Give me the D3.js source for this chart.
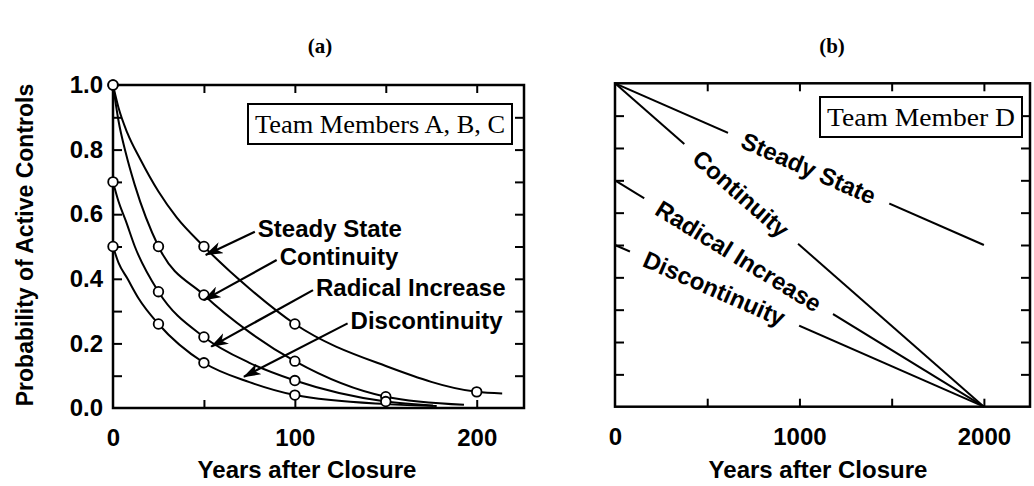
<!DOCTYPE html>
<meta charset="utf-8">
<style>
    body { margin: 0; background: #fff; }
    svg { display: block; }
    .frame { fill: none; stroke: #000; stroke-width: 2.5px; }
    .curve { fill: none; stroke: #000; stroke-width: 2px; }
    .dot { fill: #fff; stroke: #000; stroke-width: 1.8px; }
    .arrow { stroke: #000; stroke-width: 2.2px; }
    .sans { font-family: "Liberation Sans", Arial, sans-serif; font-weight: bold; font-size: 23px; fill: #000; }
    .serif { font-family: "Liberation Serif", "Times New Roman", serif; font-size: 25px; fill: #000; }
    .box { fill: #fff; stroke: #000; stroke-width: 2px; }
</style>
<body>
<script src="https://d3js.org/d3.v7.min.js"></script>
<script>
// ---- data ----
var seriesNames = ["Steady State", "Continuity", "Radical Increase", "Discontinuity"];

// panel (a): curve points (years, probability)
var aCurveYears = [
    [0, 3, 8, 15, 25, 35, 50, 75, 100, 150, 200, 214],
    [0, 3, 7, 12, 25, 50, 75, 100, 150, 193],
    [0, 3, 7, 12, 25, 50, 75, 100, 150, 176],
    [0, 3, 8, 14, 25, 50, 75, 100, 150, 178]
];
var aCurveProb = [
    [1.0, 0.93, 0.85, 0.77, 0.67, 0.59, 0.5, 0.37, 0.26, 0.13, 0.05, 0.045],
    [1.0, 0.89, 0.79, 0.69, 0.5, 0.35, 0.235, 0.145, 0.035, 0.01],
    [0.7, 0.64, 0.58, 0.5, 0.36, 0.22, 0.14, 0.085, 0.02, 0.008],
    [0.5, 0.45, 0.4, 0.34, 0.26, 0.14, 0.08, 0.04, 0.012, 0.006]
];
// panel (a): circled points
var aMarkYears = [[0, 50, 100, 200], [0, 25, 50, 100, 150], [0, 25, 50, 100, 150], [0, 25, 50, 100]];
var aMarkProb = [[1.0, 0.5, 0.26, 0.05], [1.0, 0.5, 0.35, 0.145, 0.035], [0.7, 0.36, 0.22, 0.085, 0.02], [0.5, 0.26, 0.14, 0.04]];

// panel (a): arrow labels, tail at text, tip on curve
var annTailX = [78, 90, 110, 129];
var annTailY = [0.546, 0.458, 0.365, 0.262];
var annTipX = [51, 50, 54, 72];
var annTipY = [0.474, 0.334, 0.19, 0.097];

// panel (b): straight lines
var bStartYear = [0, 0, 0, 0];
var bStartProb = [1.0, 1.0, 0.7, 0.5];
var bEndYear = [2000, 2000, 2000, 2000];
var bEndProb = [0.5, 0, 0, 0];
var bLabelYear = [1050, 683, 670, 538];   // where the label sits on its line

var aXTicks = [50, 100, 150, 200], aXLabels = [0, 100, 200];
var bXTicks = [500, 1000, 1500, 2000], bXLabels = [0, 1000, 2000];
var yTicks = [0.1, 0.2, 0.3, 0.4, 0.5, 0.6, 0.7, 0.8, 0.9];
var yLabels = [0, 0.2, 0.4, 0.6, 0.8, 1.0];

var width = 1034, height = 486;

var svg = d3.select("body").append("svg")
    .attr("width", width)
    .attr("height", height);
svg.append("rect").attr("width", width).attr("height", height).attr("fill", "#fff");

svg.append("defs").append("marker")
    .attr("id", "arrow")
    .attr("viewBox", "0 0 18 12")
    .attr("refX", 17).attr("refY", 6)
    .attr("markerWidth", 18).attr("markerHeight", 12)
    .attr("markerUnits", "userSpaceOnUse")
    .attr("orient", "auto")
    .append("path").attr("d", "M0,0 L18,6 L0,12 L5,6 Z");

var xa = d3.scaleLinear().domain([0, 226]).range([113, 524]);
var ya = d3.scaleLinear().domain([0, 1]).range([408, 85]);
var xb = d3.scaleLinear().domain([0, 2250]).range([615, 1030]);
var yb = d3.scaleLinear().domain([0, 1]).range([406.7, 83.3]);

function frame(x, y, xTicks, xLabels, showY) {
    var g = svg.append("g");
    var x0 = x.range()[0], x1 = x.range()[1], y0 = y.range()[0], y1 = y.range()[1];
    g.append("g").attr("transform", "translate(0," + y0 + ")")
        .call(d3.axisBottom(x).tickValues(xTicks).tickSize(-8).tickFormat(""));
    g.append("g").attr("transform", "translate(0," + y1 + ")")
        .call(d3.axisTop(x).tickValues(xTicks).tickSize(-8).tickFormat(""));
    g.append("g").attr("transform", "translate(" + x0 + ",0)")
        .call(d3.axisLeft(y).tickValues(yTicks).tickSize(-9).tickFormat(""));
    g.append("g").attr("transform", "translate(" + x1 + ",0)")
        .call(d3.axisRight(y).tickValues(yTicks).tickSize(-9).tickFormat(""));
    g.selectAll(".domain").remove();
    g.selectAll(".tick line").attr("stroke-width", 2);

    // tick labels
    var xl = g.append("g").attr("transform", "translate(0," + y0 + ")")
        .call(d3.axisBottom(x).tickValues(xLabels).tickSize(0).tickPadding(21).tickFormat(d3.format("d")));
    xl.select(".domain").remove();
    xl.selectAll("text").attr("class", "sans").style("font-size", "24px");
    if (showY) {
        var yl = g.append("g").attr("transform", "translate(" + x0 + ",0)")
            .call(d3.axisLeft(y).tickValues(yLabels).tickSize(0).tickPadding(10).tickFormat(d3.format(".1f")));
        yl.select(".domain").remove();
        yl.selectAll("text").attr("class", "sans").style("font-size", "24px");
    }
    g.selectAll("g").attr("font-size", null).attr("font-family", null);

    g.append("rect").attr("class", "frame")
        .attr("x", x0).attr("y", y1)
        .attr("width", x1 - x0).attr("height", y0 - y1);
}

function boxLabel(text, right, top, len) {
    var g = svg.append("g");
    var r = g.append("rect").attr("class", "box");
    var t = g.append("text").attr("class", "serif").text(text)
        .attr("x", right - 7 - len).attr("y", top + 29)
        .attr("textLength", len)
        .attr("lengthAdjust", "spacingAndGlyphs");
    r.attr("x", right - len - 14).attr("y", top)
        .attr("width", len + 14).attr("height", 40);
}

// ---------- panel (a) ----------
frame(xa, ya, aXTicks, aXLabels, true);

var lineA = d3.line()
    .x(function(d) { return xa(d[0]); })
    .y(function(d) { return ya(d[1]); })
    .curve(d3.curveMonotoneX);

seriesNames.forEach(function(name, i) {
    var pts = aCurveYears[i].map(function(t, j) { return [t, aCurveProb[i][j]]; });
    svg.append("path").attr("class", "curve").attr("d", lineA(pts));
});
seriesNames.forEach(function(name, i) {
    svg.selectAll(null)
        .data(aMarkYears[i].map(function(t, j) { return [t, aMarkProb[i][j]]; }))
        .enter().append("circle")
        .attr("class", "dot")
        .attr("r", 4.8)
        .attr("cx", function(d) { return xa(d[0]); })
        .attr("cy", function(d) { return ya(d[1]); });
});

seriesNames.forEach(function(name, i) {
    svg.append("line").attr("class", "arrow")
        .attr("x1", xa(annTailX[i])).attr("y1", ya(annTailY[i]))
        .attr("x2", xa(annTipX[i])).attr("y2", ya(annTipY[i]))
        .attr("marker-end", "url(#arrow)");
    svg.append("text").attr("class", "sans")
        .attr("x", xa(annTailX[i]) + 3)
        .attr("y", ya(annTailY[i]) - 3)
        .attr("dy", "0.35em")
        .style("font-size", "24px")
        .text(name);
});

boxLabel("Team Members A, B, C", 512, 104, 250);

svg.append("text").attr("class", "sans")
    .attr("transform", "translate(25,245) rotate(-90)")
    .attr("text-anchor", "middle")
    .attr("dy", "0.35em")
    .text("Probability of Active Controls");
svg.append("text").attr("class", "sans")
    .attr("x", 307).attr("y", 478)
    .attr("text-anchor", "middle")
    .style("font-size", "24px")
    .text("Years after Closure");

// ---------- panel (b) ----------
frame(xb, yb, bXTicks, bXLabels, false);

seriesNames.forEach(function(name, i) {
    svg.append("line").attr("class", "curve")
        .attr("x1", xb(bStartYear[i])).attr("y1", yb(bStartProb[i]))
        .attr("x2", xb(bEndYear[i])).attr("y2", yb(bEndProb[i]));
});
seriesNames.forEach(function(name, i) {
    var px1 = xb(bStartYear[i]), py1 = yb(bStartProb[i]);
    var px2 = xb(bEndYear[i]), py2 = yb(bEndProb[i]);
    var f = (bLabelYear[i] - bStartYear[i]) / (bEndYear[i] - bStartYear[i]);
    var cx = px1 + (px2 - px1) * f, cy = py1 + (py2 - py1) * f;
    var ang = Math.atan2(py2 - py1, px2 - px1) * 180 / Math.PI;
    var g = svg.append("g").attr("transform", "translate(" + cx + "," + cy + ") rotate(" + ang + ")");
    var r = g.append("rect").attr("fill", "#fff");
    var t = g.append("text").attr("class", "sans")
        .attr("text-anchor", "middle")
        .attr("dy", "0.35em")
        .style("font-size", "24px")
        .text(name);
    var bb = t.node().getBBox();
    r.attr("x", bb.x - 16).attr("y", -6).attr("width", bb.width + 32).attr("height", 12);
});

boxLabel("Team Member D", 1022, 97, 188);

svg.append("text").attr("class", "sans")
    .attr("x", 818).attr("y", 478)
    .attr("text-anchor", "middle")
    .style("font-size", "24px")
    .text("Years after Closure");

// panel letters
svg.append("text").attr("x", 320).attr("y", 53)
    .attr("text-anchor", "middle")
    .style("font", "bold 21px 'Liberation Serif', serif")
    .text("(a)");
svg.append("text").attr("x", 832).attr("y", 53)
    .attr("text-anchor", "middle")
    .style("font", "bold 21px 'Liberation Serif', serif")
    .text("(b)");
</script>
</body>
</html>
